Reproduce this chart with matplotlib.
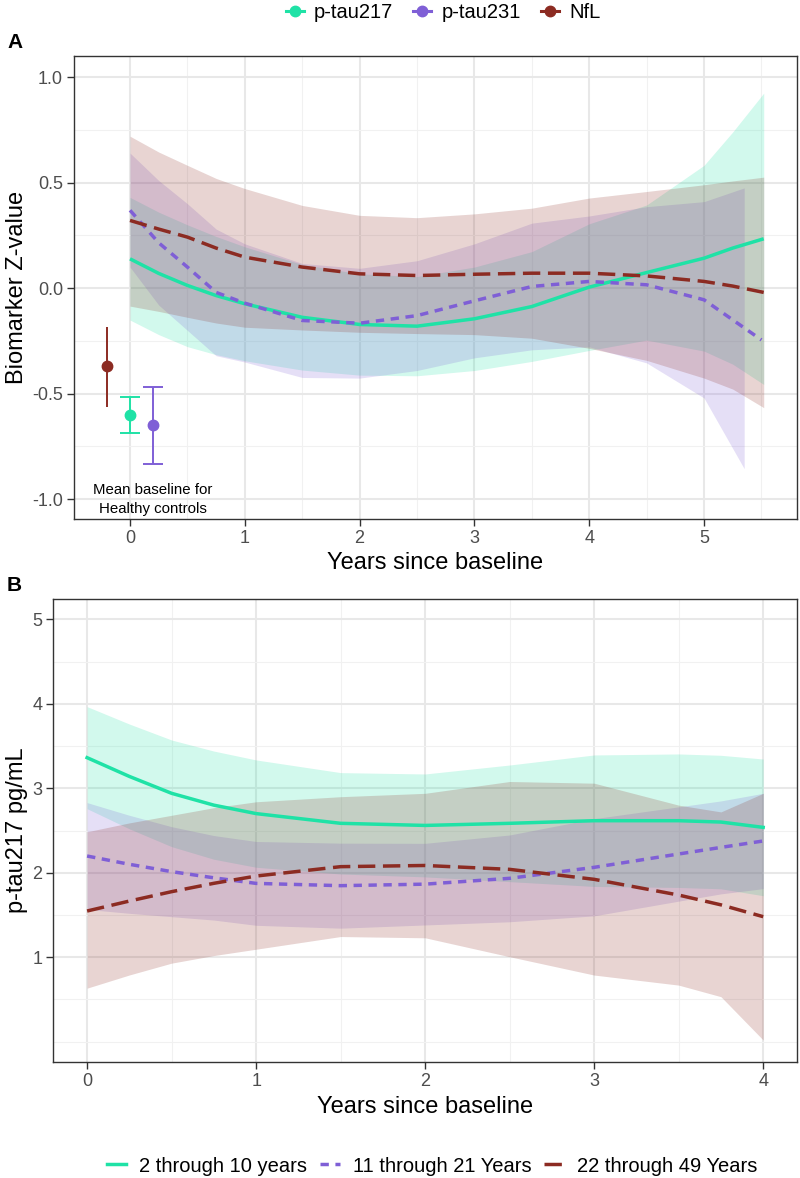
import matplotlib
matplotlib.use("Agg")
import matplotlib.pyplot as plt
from matplotlib.lines import Line2D
from matplotlib.ticker import MultipleLocator

plt.rcParams['font.family'] = ['Liberation Sans', 'DejaVu Sans']

# ---------------- Panel A data (Biomarker Z-value) ----------------
biomarkers = ["p-tau217", "p-tau231", "NfL"]

xA = [0, 0.25, 0.5, 0.75, 1, 1.5, 2, 2.5, 3, 3.5, 4, 4.5, 5, 5.25, 5.52]
ptau217_fit = [0.139, 0.07, 0.013, -0.035, -0.074, -0.138, -0.172, -0.180, -0.145, -0.087, 0.005, 0.074, 0.142, 0.19, 0.234]
ptau217_hi = [0.43, 0.36, 0.30, 0.245, 0.196, 0.112, 0.068, 0.055, 0.10, 0.173, 0.305, 0.394, 0.582, 0.74, 0.924]
ptau217_lo = [-0.151, -0.22, -0.277, -0.315, -0.344, -0.388, -0.412, -0.415, -0.39, -0.347, -0.295, -0.246, -0.298, -0.36, -0.456]

xA231_line = [0, 0.25, 0.5, 0.75, 1, 1.5, 2, 2.5, 3, 3.5, 4, 4.5, 5, 5.25, 5.5]
ptau231_fit = [0.369, 0.215, 0.10, -0.02, -0.071, -0.153, -0.166, -0.13, -0.06, 0.008, 0.032, 0.016, -0.055, -0.15, -0.245]
xA231_band = [0, 0.25, 0.5, 0.75, 1, 1.5, 2, 2.5, 3, 3.5, 4, 4.5, 5, 5.35]
ptau231_hi = [0.64, 0.51, 0.40, 0.28, 0.21, 0.117, 0.094, 0.13, 0.21, 0.308, 0.342, 0.386, 0.41, 0.475]
ptau231_lo = [0.10, -0.08, -0.20, -0.32, -0.35, -0.423, -0.426, -0.39, -0.33, -0.292, -0.278, -0.354, -0.52, -0.855]

nfl_fit = [0.321, 0.28, 0.242, 0.19, 0.147, 0.10, 0.068, 0.06, 0.066, 0.071, 0.071, 0.058, 0.032, 0.01, -0.02]
nfl_hi = [0.72, 0.645, 0.582, 0.52, 0.472, 0.392, 0.345, 0.334, 0.352, 0.379, 0.427, 0.458, 0.49, 0.508, 0.526]
nfl_lo = [-0.085, -0.11, -0.138, -0.165, -0.185, -0.198, -0.209, -0.215, -0.22, -0.237, -0.285, -0.342, -0.426, -0.478, -0.566]

# Healthy-control baseline means (x position, mean, lower, upper)
hc_x = [-0.2, 0.0, 0.2]
hc_names = ["NfL", "p-tau217", "p-tau231"]
hc_mean = [-0.371, -0.600, -0.649]
hc_lo = [-0.561, -0.686, -0.831]
hc_hi = [-0.182, -0.514, -0.466]

# ---------------- Panel B data (p-tau217 pg/mL) ----------------
age_groups = ["2 through 10 years", "11 through 21 Years", "22 through 49 Years"]
xB = [0, 0.25, 0.5, 0.75, 1, 1.5, 2, 2.5, 3, 3.5, 3.75, 4]
g1_fit = [3.362, 3.14, 2.94, 2.80, 2.70, 2.585, 2.56, 2.585, 2.616, 2.616, 2.60, 2.537]
g1_hi = [3.966, 3.76, 3.571, 3.44, 3.335, 3.185, 3.169, 3.275, 3.394, 3.406, 3.39, 3.346]
g1_lo = [2.758, 2.52, 2.309, 2.16, 2.065, 1.985, 1.951, 1.895, 1.838, 1.826, 1.81, 1.728]

g2_fit = [2.198, 2.10, 2.013, 1.94, 1.874, 1.847, 1.865, 1.934, 2.064, 2.222, 2.30, 2.376]
g2_hi = [2.83, 2.68, 2.545, 2.44, 2.37, 2.35, 2.348, 2.447, 2.64, 2.78, 2.85, 2.94]
g2_lo = [1.566, 1.52, 1.48, 1.44, 1.378, 1.344, 1.382, 1.42, 1.49, 1.664, 1.75, 1.812]

g3_fit = [1.547, 1.665, 1.776, 1.875, 1.961, 2.072, 2.086, 2.04, 1.922, 1.736, 1.62, 1.48]
g3_hi = [2.485, 2.59, 2.68, 2.77, 2.84, 2.90, 2.94, 3.08, 3.06, 2.80, 2.72, 2.94]
g3_lo = [0.634, 0.79, 0.93, 1.02, 1.095, 1.245, 1.23, 1.006, 0.789, 0.67, 0.533, 0.02]

# ---------------- styling ----------------
C_GREEN = '#1fe2a6'
C_PURPLE = '#7f5fd6'
C_BROWN = '#8c2b22'
FILL_ALPHA = 0.2
LW = 2.5
DASH_BROWN = (0, (5.0, 2.2))
DASH_PURPLE = (0, (2.4, 1.9))

W, H = 800, 1178
fig = plt.figure(figsize=(W / 100, H / 100), dpi=100)


def frac(l, t, r, b):
    return [l / W, 1 - b / H, (r - l) / W, (b - t) / H]


def style_axes(ax):
    for s in ax.spines.values():
        s.set_color('#333333')
        s.set_linewidth(1.0)
    ax.grid(True, which='major', color='#e8e8e8', linewidth=1.5, zorder=0)
    ax.grid(True, which='minor', color='#f1f1f1', linewidth=0.8, zorder=0)
    ax.set_axisbelow(True)
    ax.tick_params(which='major', length=5, width=1.0, color='#333333',
                   labelsize=13, labelcolor='#4d4d4d', pad=3)
    ax.tick_params(which='minor', length=0)


# ---------- Panel A ----------
axA = fig.add_axes(frac(74, 56, 797, 519.3))
style_axes(axA)
axA.fill_between(xA, ptau217_lo, ptau217_hi, color=C_GREEN, alpha=FILL_ALPHA, lw=0)
axA.plot(xA, ptau217_fit, color=C_GREEN, lw=LW, solid_capstyle='butt')
axA.fill_between(xA231_band, ptau231_lo, ptau231_hi, color=C_PURPLE, alpha=FILL_ALPHA, lw=0)
axA.plot(xA231_line, ptau231_fit, color=C_PURPLE, lw=LW, linestyle=DASH_PURPLE)
axA.fill_between(xA, nfl_lo, nfl_hi, color=C_BROWN, alpha=FILL_ALPHA, lw=0)
axA.plot(xA, nfl_fit, color=C_BROWN, lw=LW, linestyle=DASH_BROWN)

hc_colors = {"NfL": C_BROWN, "p-tau217": C_GREEN, "p-tau231": C_PURPLE}
for xv, nm, m, lo, hi in zip(hc_x, hc_names, hc_mean, hc_lo, hc_hi):
    cs = 0 if nm == "NfL" else 7
    axA.errorbar([xv], [m], yerr=[[m - lo], [hi - m]], fmt='o', color=hc_colors[nm],
                 ms=7.5, elinewidth=1.4, capsize=cs, capthick=1.4, zorder=5)

axA.text(0.2, -1.0, "Mean baseline for\nHealthy controls", ha='center', va='center',
         fontsize=10.8, linespacing=1.45, color='black')

axA.set_xlim(-0.488, 5.81)
axA.set_ylim(-1.095, 1.10)
axA.xaxis.set_major_locator(MultipleLocator(1))
axA.xaxis.set_minor_locator(MultipleLocator(0.5))
axA.yaxis.set_major_locator(MultipleLocator(0.5))
axA.yaxis.set_minor_locator(MultipleLocator(0.25))
axA.set_yticks([-1.0, -0.5, 0.0, 0.5, 1.0])
axA.set_yticklabels(["-1.0", "-0.5", "0.0", "0.5", "1.0"])
axA.set_xlabel("Years since baseline", fontsize=17, va='center')
axA.xaxis.set_label_coords(0.5, (519.3 - 563) / 463.3)
axA.set_ylabel("Biomarker Z-value", fontsize=17, va='center')
axA.yaxis.set_label_coords((17 - 74) / 723, 0.5)

# ---------- Panel B ----------
axB = fig.add_axes(frac(53.3, 599, 797, 1062))
style_axes(axB)
axB.fill_between(xB, g1_lo, g1_hi, color=C_GREEN, alpha=FILL_ALPHA, lw=0)
axB.plot(xB, g1_fit, color=C_GREEN, lw=LW)
axB.fill_between(xB, g2_lo, g2_hi, color=C_PURPLE, alpha=FILL_ALPHA, lw=0)
axB.plot(xB, g2_fit, color=C_PURPLE, lw=LW, linestyle=DASH_PURPLE)
axB.fill_between(xB, g3_lo, g3_hi, color=C_BROWN, alpha=FILL_ALPHA, lw=0)
axB.plot(xB, g3_fit, color=C_BROWN, lw=LW, linestyle=DASH_BROWN)

axB.set_xlim(-0.2, 4.2)
axB.set_ylim(-0.24, 5.24)
axB.xaxis.set_major_locator(MultipleLocator(1))
axB.xaxis.set_minor_locator(MultipleLocator(0.5))
axB.set_yticks([1, 2, 3, 4, 5])
axB.yaxis.set_minor_locator(MultipleLocator(0.5))
axB.set_xlabel("Years since baseline", fontsize=17, va='center')
axB.xaxis.set_label_coords(0.5, (1062 - 1107) / 463)
axB.set_ylabel("p-tau217 pg/mL", fontsize=17, va='center')
axB.yaxis.set_label_coords((17 - 53.3) / 743.7, 0.5)

# panel tags
fig.text(7 / W, 1 - 42 / H, "A", fontsize=15, fontweight='bold', va='center', ha='left')
fig.text(7 / W, 1 - 586 / H, "B", fontsize=15, fontweight='bold', va='center', ha='left')

# ---------- legends ----------
top_handles = [Line2D([], [], color=c, marker='o', ms=7.5, lw=2.2)
               for c in (C_GREEN, C_PURPLE, C_BROWN)]
fig.legend(top_handles, biomarkers, loc='center', bbox_to_anchor=(443 / W, 1 - 13 / H),
           ncol=3, frameon=False, fontsize=14.5, handlelength=0.9, handletextpad=0.5,
           columnspacing=1.0, borderaxespad=0, borderpad=0)

bot_handles = [Line2D([], [], color=C_GREEN, lw=LW),
               Line2D([], [], color=C_PURPLE, lw=LW, linestyle=DASH_PURPLE),
               Line2D([], [], color=C_BROWN, lw=LW, linestyle=DASH_BROWN)]
fig.legend(bot_handles, age_groups, loc='center', bbox_to_anchor=(432 / W, 1 - 1166 / H),
           ncol=3, frameon=False, fontsize=14.5, handlelength=0.95, handletextpad=0.65,
           columnspacing=0.65, borderaxespad=0, borderpad=0)

fig.savefig("out.png", dpi=100)
